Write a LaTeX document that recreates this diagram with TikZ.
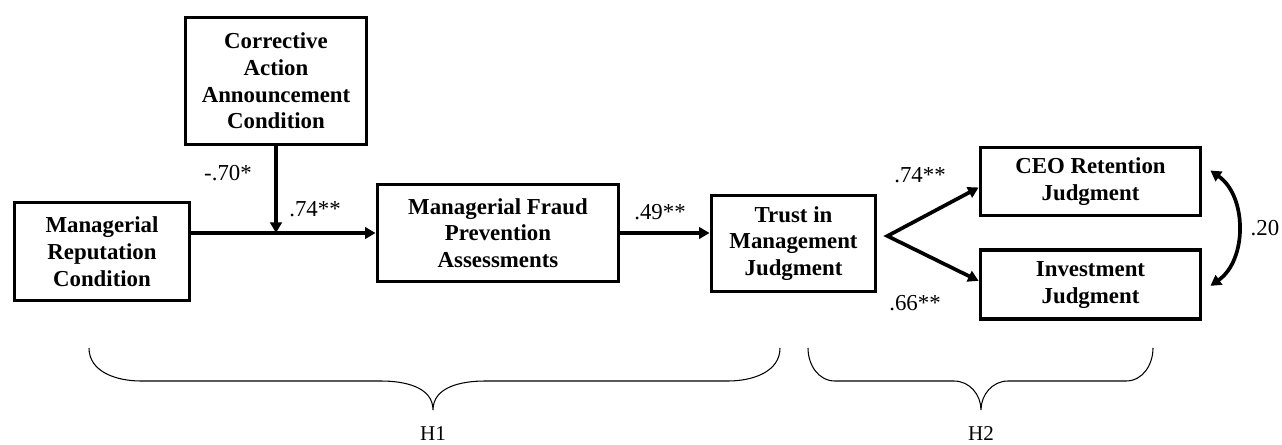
\documentclass[tikz,border=0pt]{standalone}
\usepackage{fontspec}
\setmainfont{Liberation Serif}
\usetikzlibrary{calc,positioning,arrows.meta}

\begin{document}
\begin{tikzpicture}[
    x=0.02cm, y=0.02cm,
    font=\fontsize{13}{15.2}\selectfont,
    >={Triangle[length=6pt,width=6.5pt]},
    blk/.style={draw=black, line width=2.2pt, rectangle, align=center,
                font=\fontsize{13}{15.2}\selectfont\bfseries, inner sep=1.5pt},
    lbl/.style={inner sep=1pt},
    flow/.style={->, line width=2.1pt, line join=miter},
    brc/.style={line width=0.6pt},
    hyp/.style={anchor=base, inner sep=0pt, font=\fontsize{12}{14}\selectfont}
  ]
    \useasboundingbox (0,0) rectangle (1282,444);

    \node[blk, minimum width=3.62cm, minimum height=2.54cm] (corr) at (276,363)
      {Corrective\\Action\\Announcement\\Condition};
    \node[blk, minimum width=3.5cm, minimum height=1.96cm] (rep) at (102,192.5)
      {Managerial\\Reputation\\Condition};
    \node[blk, minimum width=4.82cm, minimum height=1.94cm] (fraud) at (498,211)
      {Managerial Fraud\\Prevention\\Assessments};
    \node[blk, minimum width=3.28cm, minimum height=1.92cm] (trust) at (793.5,200.5)
      {Trust in\\Management\\Judgment};
    \node[blk, minimum width=4.4cm, minimum height=1.36cm] (ceo) at (1090.5,262.5)
      {CEO Retention\\Judgment};
    \node[blk, minimum width=4.4cm, minimum height=1.38cm, below=0.62cm of ceo] (inv)
      {Investment\\Judgment};

    \coordinate (mod) at (corr.south |- fraud.west);
    \coordinate (split) at ($(trust.east)+(10,7.5)$);

    \draw[flow] (rep.east |- fraud.west) -- (fraud.west);
    \draw[flow] (corr) -- (mod);
    \draw[flow] (fraud.east) -- (fraud.east -| trust.west);
    \draw[flow, <->] ($(ceo.west)+(0,-6)$) -- (split) -- ($(inv.west)+(0,4)$);
    \draw[flow, <->] ($(ceo.east)+(8,11)$) to[bend left=55] ($(inv.east)+(8,-1)$);

    \node[lbl] (m70) at (228,271) {-.70*};
    \node[lbl] (m74) at (315,235) {.74**};
    \node[lbl] (p49) at (660,232) {.49**};
    \node[lbl] (p74) at (920,269) {.74**};
    \node[lbl] (p66) at (915,141) {.66**};
    \node[lbl] (r20) at (1265,216) {.20};

    % hypothesis braces
    \draw[brc] (89,96) to[out=-90,in=180] (141,63) -- (381,63)
      to[out=0,in=90] (433,34) to[out=90,in=180] (485,63) -- (728,63)
      to[out=0,in=-90] (780,96);
    \draw[brc] (808,96) to[out=-90,in=180] (835,63) -- (954,63)
      to[out=0,in=90] (981,34) to[out=90,in=180] (1008,63) -- (1126,63)
      to[out=0,in=-90] (1153,96);
    \node[hyp] (h1) at (433,4) {H1};
    \node[hyp] (h2) at (981,4) {H2};
  \end{tikzpicture}
\end{document}
